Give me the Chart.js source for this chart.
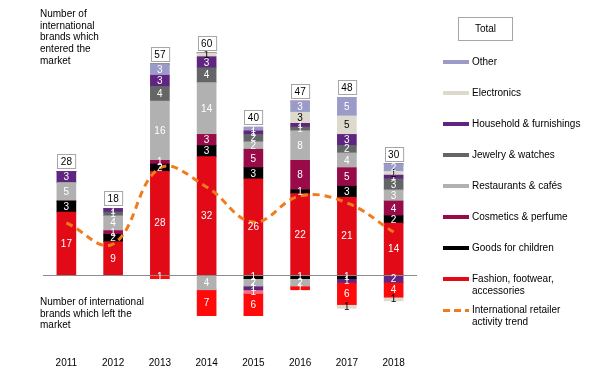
<!DOCTYPE html>
<html>
<head>
<meta charset="utf-8">
<script src="https://cdn.jsdelivr.net/npm/chart.js@4.4.0/dist/chart.umd.min.js"></script>
<style>
  body { margin: 0; background: #fff; font-family: "Liberation Sans", Arial, sans-serif; color: #000; }
  #wrap { position: relative; width: 600px; height: 371px; overflow: hidden; }
  #c { position: absolute; left: 0; top: 0; }
  .note { position: absolute; left: 40px; font-size: 10px; line-height: 11.7px; white-space: pre; }
  #legend { position: absolute; left: 443px; top: 0; width: 157px; height: 371px; font-size: 10px; line-height: 11.7px; }
  #legend .sw { position: absolute; left: 0; width: 26px; height: 4px; }
  #legend .lt { position: absolute; left: 29px; white-space: pre; }
  #total { position: absolute; left: 15px; top: 17px; width: 53px; height: 22px; border: 1px solid #a6a6a6;
           text-align: center; line-height: 22px; font-size: 10px; }
</style>
</head>
<body>
<div id="wrap">
  <canvas id="c" width="600" height="371"></canvas>
  <div class="note" style="top:8px">Number of
international
brands which
entered the
market</div>
  <div class="note" style="top:296px">Number of international
brands which left the
market</div>
  <div id="legend"><div id="total">Total</div></div>
</div>
<script>
// ---- data ----
var years = ["2011", "2012", "2013", "2014", "2015", "2016", "2017", "2018"];

// brands which entered the market
var fashionIn     = [17, 9, 28, 32, 26, 22, 21, 14];
var goodsIn       = [3, 2, 2, 3, 3, 1, 3, 2];
var cosmeticsIn   = [0, 1, 1, 3, 5, 8, 5, 4];
var restaurantsIn = [5, 4, 16, 14, 2, 8, 4, 3];
var jewelryIn     = [0, 1, 4, 4, 2, 1, 2, 3];
var householdIn   = [3, 1, 3, 3, 1, 1, 3, 1];
var electronicsIn = [0, 0, 0, 1, 0, 3, 5, 1];
var otherIn       = [0, 0, 3, 0, 1, 3, 5, 2];
var totals        = [28, 18, 57, 60, 40, 47, 48, 30];

// brands which left the market
var goodsOut       = [0, 0, 0, 0, -1, -1, -1, 0];
var restaurantsOut = [0, 0, 0, -4, -2, -2, 0, 0];
var householdOut   = [0, 0, 0, 0, -1, 0, -1, -2];
var cosmeticsOut   = [0, 0, 0, 0, -1, 0, 0, 0];
var fashionOut     = [0, 0, -1, -7, -6, -1, -6, -4];
var electronicsOut = [0, 0, 0, 0, 0, 0, -1, -1];

var trend = [14.1, 8.4, 28.9, 23.8, 14.3, 21.4, 19.5, 11.6];

// ---- styles ----
var C = {
  fashion: "#e20a17", goods: "#000000", cosmetics: "#990a48", restaurants: "#b1b1b1",
  jewelry: "#646567", household: "#5f2580", electronics: "#ddd9cc", other: "#9b9bc9",
  fashionOut: "#ff0a0a", cosmeticsOut: "#ef7080", trend: "#f07c1c"
};

function bar(label, data, color, txt, legend) {
  return { type: "bar", label: label, data: data, backgroundColor: color, borderWidth: 0,
           stack: "s", order: 1, labelColor: txt || "#fff", inLegend: legend };
}

var datasets = [
  bar("Fashion, footwear,\naccessories", fashionIn, C.fashion, null, true),
  bar("Goods for children", goodsIn, C.goods, null, true),
  bar("Cosmetics & perfume", cosmeticsIn, C.cosmetics, null, true),
  bar("Restaurants & cafés", restaurantsIn, C.restaurants, null, true),
  bar("Jewelry & watches", jewelryIn, C.jewelry, null, true),
  bar("Household & furnishings", householdIn, C.household, null, true),
  bar("Electronics", electronicsIn, C.electronics, "#000", true),
  bar("Other", otherIn, C.other, null, true),
  bar("Goods (left)", goodsOut, C.goods),
  bar("Restaurants (left)", restaurantsOut, C.restaurants),
  bar("Household (left)", householdOut, C.household),
  bar("Cosmetics (left)", cosmeticsOut, C.cosmeticsOut),
  bar("Fashion (left)", fashionOut, C.fashionOut),
  bar("Electronics (left)", electronicsOut, C.electronics, "#000"),
  { type: "line", label: "International retailer\nactivity trend", data: trend, yAxisID: "y2",
    borderColor: C.trend, borderWidth: 3, borderDash: [7, 5], tension: 0.4,
    pointRadius: 0, fill: false, order: 0 }
];

// numbers in the segments, zero line, total boxes
var labelPlugin = {
  id: "segLabels",
  afterDatasetsDraw: function (chart) {
    var ctx = chart.ctx, y = chart.scales.y, area = chart.chartArea;
    ctx.save();
    var y0 = Math.round(y.getPixelForValue(0)) + 0.5;
    ctx.strokeStyle = "#8c8c8c"; ctx.lineWidth = 1;
    ctx.beginPath(); ctx.moveTo(area.left, y0); ctx.lineTo(area.right, y0); ctx.stroke();

    ctx.font = '10px "Liberation Sans", Arial, sans-serif';
    ctx.textAlign = "center"; ctx.textBaseline = "middle";
    chart.data.datasets.forEach(function (ds, i) {
      if (ds.type !== "bar") return;
      chart.getDatasetMeta(i).data.forEach(function (el, j) {
        var v = ds.data[j];
        if (!v) return;
        ctx.fillStyle = ds.labelColor;
        ctx.fillText(String(Math.abs(v)), el.x, (el.y + el.base) / 2 + 0.5);
      });
    });

    var meta0 = chart.getDatasetMeta(0);
    totals.forEach(function (t, j) {
      var x = meta0.data[j].x, top = y.getPixelForValue(t);
      var w = ctx.measureText(String(t)).width + 7, h = 14;
      var bx = Math.round(x - w / 2) + 0.5, by = Math.round(top - 3.5 - h) + 0.5;
      ctx.fillStyle = "#fff"; ctx.fillRect(bx, by, w, h);
      ctx.strokeStyle = "#a6a6a6"; ctx.strokeRect(bx, by, w, h);
      ctx.fillStyle = "#000";
      ctx.fillText(String(t), x, by + h / 2 + 0.5);
    });
    ctx.restore();
  }
};

var chart = new Chart(document.getElementById("c"), {
  data: { labels: years, datasets: datasets },
  options: {
    responsive: false, animation: false, devicePixelRatio: 1,
    layout: { padding: { left: 43, right: 183, top: 16, bottom: 2 } },
    plugins: { legend: { display: false }, tooltip: { enabled: false } },
    scales: {
      x: { stacked: true, grid: { display: false, drawTicks: false }, border: { display: false },
           ticks: { color: "#000", padding: 8, font: { family: '"Liberation Sans", Arial', size: 10 } },
           afterFit: function (s) { s.height = 20; } },
      y: { stacked: true, min: -20, max: 70, display: false },
      y2: { min: -20, max: 70, display: false }
    },
    datasets: { bar: { barThickness: 19 } }
  },
  plugins: [labelPlugin]
});

// ---- legend on the right (from the datasets) ----
(function () {
  var lg = document.getElementById("legend");
  var items = chart.data.datasets.filter(function (d) { return d.inLegend; }).reverse();
  items.push(chart.data.datasets[chart.data.datasets.length - 1]);
  items.forEach(function (d, i) {
    var cy = 62.3 + 31 * i;
    var sw = document.createElement("div");
    sw.className = "sw";
    sw.style.top = (cy - 2) + "px";
    if (d.type === "line") {
      sw.style.height = "3px";
      sw.style.top = (cy - 1.5) + "px";
      sw.style.background = "repeating-linear-gradient(90deg," + C.trend + " 0 7px, transparent 7px 11px)";
    } else {
      sw.style.background = d.backgroundColor;
    }
    var t = document.createElement("div");
    t.className = "lt";
    t.style.top = (cy - 5.85) + "px";
    t.textContent = d.label;
    lg.appendChild(sw); lg.appendChild(t);
  });
})();
</script>
</body>
</html>
